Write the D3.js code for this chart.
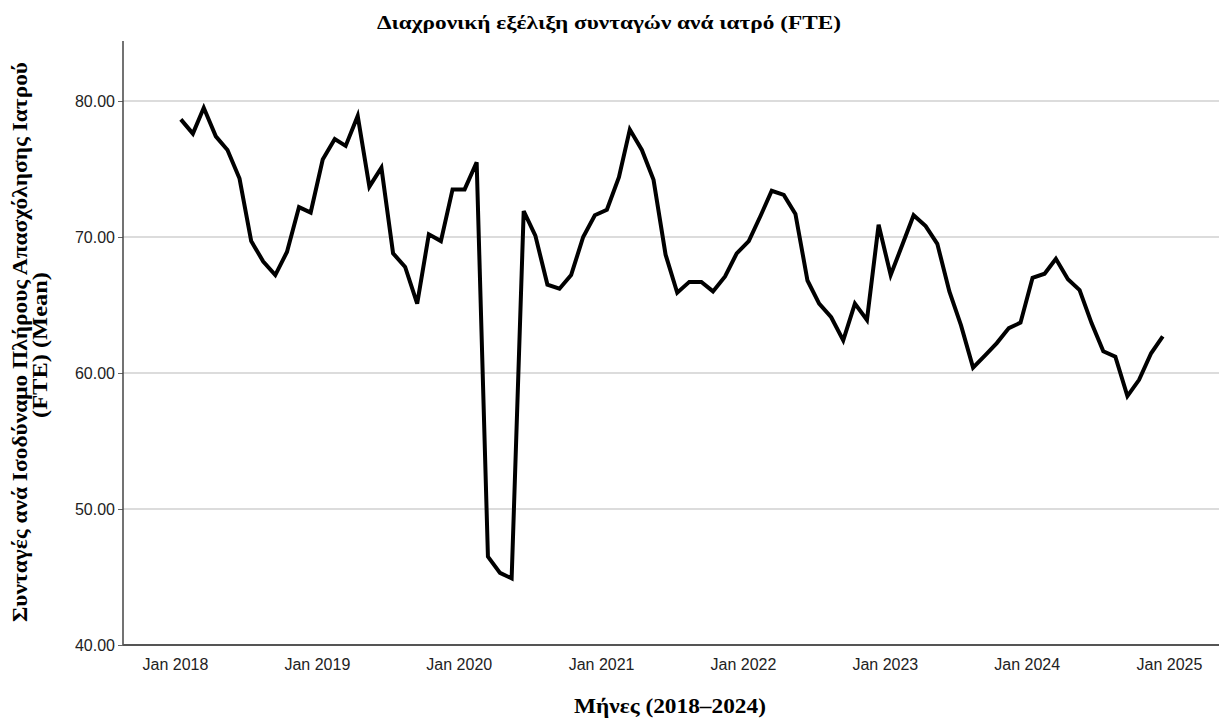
<!DOCTYPE html>
<html>
<head>
<meta charset="utf-8">
<script src="https://cdn.jsdelivr.net/npm/d3@7"></script>
<style>
  body { margin: 0; background: #fff; }
  svg { display: block; }
</style>
</head>
<body>
<svg id="chart" width="1219" height="718"></svg>
<script>
// monthly means, Jan 2018 .. Dec 2024
const fteMean = [
  78.65, 77.6, 79.5, 77.4, 76.4, 74.3, 69.7, 68.2, 67.2, 68.9, 72.2, 71.8,
  75.7, 77.2, 76.7, 78.9, 73.7, 75.1, 68.8, 67.8, 65.1, 70.2, 69.7, 73.5,
  73.5, 75.5, 46.5, 45.3, 44.9, 71.9, 70.1, 66.5, 66.2, 67.2, 70.0, 71.6,
  72.0, 74.4, 77.9, 76.4, 74.2, 68.7, 65.9, 66.7, 66.7, 66.0, 67.1, 68.8,
  69.7, 71.6, 73.4, 73.1, 71.7, 66.8, 65.1, 64.1, 62.4, 65.1, 63.9, 70.9,
  67.2, 69.5, 71.6, 70.8, 69.5, 66.0, 63.5, 60.4, 61.3, 62.2, 63.3, 63.7,
  67.0, 67.3, 68.4, 66.9, 66.1, 63.65, 61.6, 61.2, 58.3, 59.5, 61.45, 62.7
];
const startMonth = new Date(2018, 0, 1);
const endMonth = new Date(2025, 0, 1);
const yTicks = [40, 50, 60, 70, 80];
const xTickLabels = ["Jan 2018", "Jan 2019", "Jan 2020", "Jan 2021", "Jan 2022", "Jan 2023", "Jan 2024", "Jan 2025"];

const titleText = "Διαχρονική εξέλιξη συνταγών ανά ιατρό (FTE)";
const xTitle = "Μήνες (2018–2024)";
const yTitle1 = "Συνταγές ανά Ισοδύναμο Πλήρους Απασχόλησης Ιατρού";
const yTitle2 = "(FTE) (Mean)";

const svg = d3.select("#chart");
const plotLeft = 123, plotRight = 1219, plotTop = 41, plotBottom = 645;

// points sit in the middle of each month
const months = d3.timeMonth.range(startMonth, endMonth);
const data = months.map((m, i) => ({ date: d3.timeDay.offset(m, 15), value: fteMean[i] }));

// Jan 2018 label at 175, Jan 2025 at 1169; widen to the plot frame
const base = d3.scaleTime().domain([startMonth, endMonth]).range([175, 1169]);
const x = d3.scaleTime().domain([base.invert(plotLeft), base.invert(plotRight)]).range([plotLeft, plotRight]);

const y = d3.scaleLinear().domain([40, 80]).range([plotBottom, 101]);

// gridlines
svg.append("g")
  .selectAll("line")
  .data(yTicks.filter(d => d > 40))
  .join("line")
  .attr("x1", plotLeft).attr("x2", plotRight)
  .attr("y1", d => y(d)).attr("y2", d => y(d))
  .attr("stroke", "#b9b9b9")
  .attr("stroke-width", 1);

// y axis
const yAxis = svg.append("g")
  .attr("transform", `translate(${plotLeft},0)`)
  .call(d3.axisLeft(y).tickValues(yTicks).tickFormat(d3.format(".2f")).tickSize(5).tickPadding(3));
yAxis.select(".domain").remove();
yAxis.selectAll(".tick line").attr("stroke", "#666");
yAxis.selectAll(".tick text")
  .attr("font-family", "Liberation Sans, Arial, sans-serif")
  .attr("font-size", 16)
  .attr("fill", "#222");

svg.append("line")
  .attr("x1", plotLeft).attr("x2", plotLeft)
  .attr("y1", plotTop).attr("y2", plotBottom)
  .attr("stroke", "#444").attr("stroke-width", 1.5);

// x axis
const xAxis = svg.append("g")
  .attr("transform", `translate(0,${plotBottom})`)
  .call(d3.axisBottom(x)
    .tickValues(xTickLabels.map((t, i) => d3.timeYear.offset(startMonth, i)))
    .tickFormat((d, i) => xTickLabels[i])
    .tickSize(0).tickPadding(14));
xAxis.select(".domain").remove();
xAxis.selectAll(".tick text")
  .attr("font-family", "Liberation Sans, Arial, sans-serif")
  .attr("font-size", 16)
  .attr("fill", "#222");

svg.append("line")
  .attr("x1", plotLeft).attr("x2", plotRight)
  .attr("y1", plotBottom).attr("y2", plotBottom)
  .attr("stroke", "#555").attr("stroke-width", 2);

// the series
const line = d3.line()
  .x(d => x(d.date))
  .y(d => y(d.value));

svg.append("path")
  .datum(data)
  .attr("d", line)
  .attr("fill", "none")
  .attr("stroke", "#000")
  .attr("stroke-width", 4)
  .attr("stroke-linejoin", "miter");

// titles
const serif = "Liberation Serif, Times New Roman, serif";

svg.append("text")
  .attr("x", 609).attr("y", 29)
  .attr("text-anchor", "middle")
  .attr("font-family", serif).attr("font-weight", "bold").attr("font-size", 19)
  .attr("textLength", 464).attr("lengthAdjust", "spacingAndGlyphs")
  .text(titleText);

svg.append("text")
  .attr("x", 670).attr("y", 713)
  .attr("text-anchor", "middle")
  .attr("font-family", serif).attr("font-weight", "bold").attr("font-size", 20)
  .attr("textLength", 192).attr("lengthAdjust", "spacingAndGlyphs")
  .text(xTitle);

const yLab = svg.append("g")
  .attr("font-family", serif).attr("font-weight", "bold").attr("font-size", 20)
  .attr("text-anchor", "middle");

yLab.append("text")
  .attr("transform", "translate(27,342) rotate(-90)")
  .attr("textLength", 560).attr("lengthAdjust", "spacingAndGlyphs")
  .text(yTitle1);

yLab.append("text")
  .attr("transform", "translate(47,345) rotate(-90)")
  .attr("textLength", 146).attr("lengthAdjust", "spacingAndGlyphs")
  .text(yTitle2);
</script>
</body>
</html>
